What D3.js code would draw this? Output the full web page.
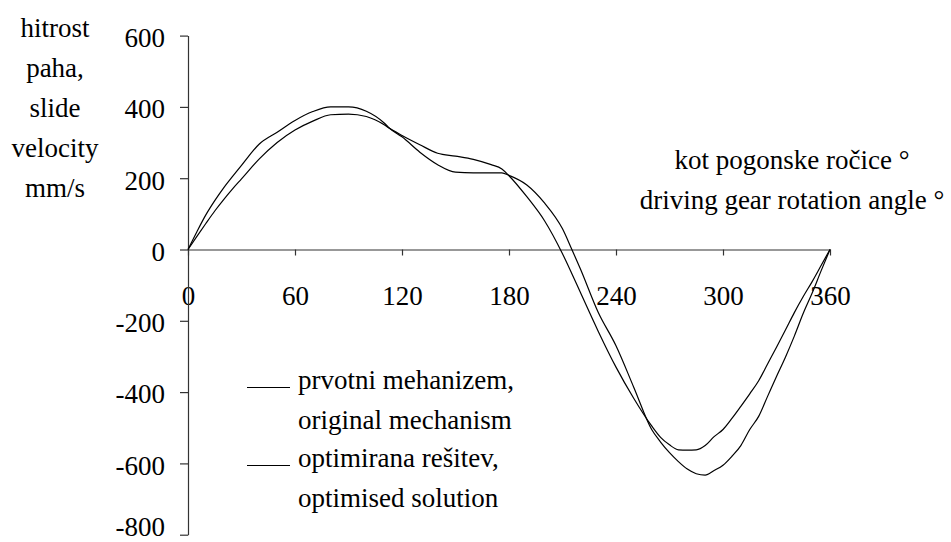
<!DOCTYPE html>
<html>
<head>
<meta charset="utf-8">
<script src="https://cdn.jsdelivr.net/npm/d3@7"></script>
<style>
  html, body { margin: 0; padding: 0; background: #fff; }
  svg { display: block; }
  text { font-family: "Liberation Serif", "Times New Roman", serif; fill: #000; }
</style>
</head>
<body>
<svg id="chart" width="951" height="542"></svg>
<script>
// ---- data ----
const angles = [0,5,10,15,20,25,30,40,50,60,70,80,90,100,110,113,120,130,140,150,160,170,176,180,190,200,210,215,220,230,240,250,260,265,270,275,280,285,290,295,300,305,310,315,320,325,330,335,340,345,350,355,360];
const original = [0,50,97,137,173,205,236,296,329,362,387,400,400,388,355,340,316,273,238,217,215,215,215,208,181,130,58,3,-54,-176,-270,-387,-505,-540,-570,-595,-616,-629,-633,-620,-605,-580,-550,-505,-468,-412,-356,-302,-243,-179,-122,-60,0];
const optimised = [0,37,73,108,140,170,198,254,300,335,360,378,380,373,350,340,320,294,270,262,253,238,226,207,148,80,-12,-65,-120,-229,-330,-418,-495,-527,-548,-562,-563,-562,-550,-525,-505,-474,-440,-405,-368,-321,-274,-226,-177,-132,-90,-45,0];
const xTicks = [0,60,120,180,240,300,360];
const yTicks = [-800,-600,-400,-200,0,200,400,600];
const yTitle = ["hitrost","paha,","slide","velocity","mm/s"];
const xTitle = ["kot pogonske ročice °","driving gear rotation angle °"];
const legendItems = [
  ["prvotni mehanizem,","original mechanism"],
  ["optimirana rešitev,","optimised solution"]
];

// ---- chart ----
const svg = d3.select("#chart");
const x = d3.scaleLinear().domain([0,360]).range([188,830]);
const y = d3.scaleLinear().domain([-800,600]).range([534.7,35.6]);
const FS = 27;

const gx = svg.append("g").attr("transform", `translate(0,${y(0)})`)
  .call(d3.axisBottom(x).tickValues(xTicks).tickSize(6).tickSizeOuter(0).tickPadding(30.5).tickFormat(d3.format("d")));
const gy = svg.append("g").attr("transform", `translate(${x(0)},0)`)
  .call(d3.axisLeft(y).tickValues(yTicks).tickSize(8).tickSizeOuter(0).tickPadding(15).tickFormat(d3.format("d")));
[gx, gy].forEach(g => {
  g.selectAll("path.domain").attr("stroke", "#333").attr("stroke-width", 1.2);
  g.selectAll(".tick line").attr("stroke", "#333").attr("stroke-width", 1.2);
  g.selectAll(".tick text").attr("font-size", FS).attr("font-family", "Liberation Serif, Times New Roman, serif").attr("fill", "#000");
});
gy.selectAll(".tick text")
  .attr("dy", d => d === -800 ? "0.02em" : "0.4em")
  .text(d => d < 0 ? "-" + Math.abs(d) : d);

const line = d3.line().x((d,i) => x(angles[i])).y(d => y(d)).curve(d3.curveMonotoneX);
[original, optimised].forEach(s => {
  svg.append("path").datum(s).attr("d", line)
    .attr("fill", "none").attr("stroke", "#000").attr("stroke-width", 1.2);
});

// y title
svg.append("g").selectAll("text").data(yTitle).join("text")
  .attr("x", 55).attr("y", (d,i) => 37 + i*40)
  .attr("text-anchor", "middle").attr("font-size", FS).text(d => d);

// x title
svg.append("g").selectAll("text").data(xTitle).join("text")
  .attr("x", 792).attr("y", (d,i) => 169 + i*40)
  .attr("text-anchor", "middle").attr("font-size", FS).text(d => d);

// legend
const lg = svg.append("g");
legendItems.forEach((item, k) => {
  const by = 389 + k*78;
  lg.append("line").attr("x1", 247).attr("x2", 290).attr("y1", by - 1.5).attr("y2", by - 1.5)
    .attr("stroke", "#000").attr("stroke-width", 1.2);
  item.forEach((t, j) => {
    lg.append("text").attr("x", 298).attr("y", by + j*40).attr("font-size", FS).text(t);
  });
});
</script>
</body>
</html>
